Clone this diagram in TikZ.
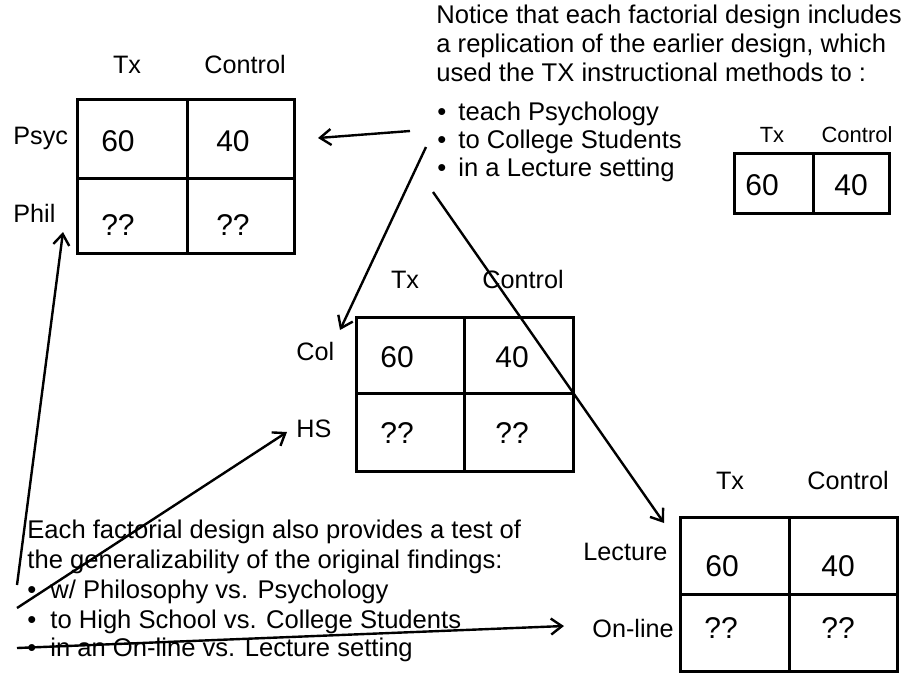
\documentclass[tikz,border=0pt]{standalone}
\usepackage{fontspec}
\setmainfont{Liberation Sans}
\usetikzlibrary{arrows.meta}
\begin{document}
\begin{tikzpicture}[x=0.5pt,y=-0.5pt,
  txt/.style={font=\fontsize{12.8}{15}\selectfont, inner sep=0pt, anchor=base west},
  lbl/.style={font=\fontsize{12.6}{15}\selectfont, inner sep=0pt, anchor=base},
  lblw/.style={font=\fontsize{12.6}{15}\selectfont, inner sep=0pt, anchor=base west},
  num/.style={font=\fontsize{15}{18}\selectfont, inner sep=0pt, anchor=base},
  small/.style={font=\fontsize{11}{13}\selectfont, inner sep=0pt, anchor=base},
  tbl/.style={line width=1.5pt},
  arr/.style={line width=1.2pt, -{Straight Barb[length=5.5pt,width=8pt,line width=1.2pt]}}]
\useasboundingbox (0,0) rectangle (904,681);

% ---------- top-left table (Psyc / Phil)
\draw[tbl] (77,99) rectangle (294,253);
\draw[tbl] (187,99) -- (187,253);
\draw[tbl] (77,178) -- (294,178);
\node[lbl] (tlTx) at (127,73) {Tx};
\node[lbl] (tlCo) at (245,73) {Control};
\node[lblw] (psyc) at (13,144) {Psyc};
\node[lblw] (phil) at (13,222) {Phil};
\node[num] (tl60) at (118,151) {60};
\node[num] (tl40) at (233,151) {40};
\node[num] (tlq1) at (118,235) {??};
\node[num] (tlq2) at (233,235) {??};

% ---------- middle table (Col / HS)
\draw[tbl] (356,317) rectangle (573,471);
\draw[tbl] (464,317) -- (464,471);
\draw[tbl] (356,393) -- (573,393);
\node[lbl] (mTx) at (405,288) {Tx};
\node[lbl] (mCo) at (523,288) {Control};
\node[lblw] (col) at (296,360) {Col};
\node[lblw] (hs) at (296,437) {HS};
\node[num] (m60) at (397,367) {60};
\node[num] (m40) at (512,367) {40};
\node[num] (mq1) at (397,443) {??};
\node[num] (mq2) at (512,443) {??};

% ---------- bottom-right table (Lecture / On-line)
\draw[tbl] (680,517) rectangle (897,671);
\draw[tbl] (789,517) -- (789,671);
\draw[tbl] (680,594) -- (897,594);
\node[lbl] (bTx) at (730,489) {Tx};
\node[lbl] (bCo) at (848,489) {Control};
\node[lblw] (lect) at (583,560) {Lecture};
\node[lblw] (onl) at (592,637) {On-line};
\node[num] (b60) at (722,576) {60};
\node[num] (b40) at (838,576) {40};
\node[num] (bq1) at (721,638) {??};
\node[num] (bq2) at (838,638) {??};

% ---------- small table (original design)
\draw[tbl] (734,153) rectangle (889,213);
\draw[tbl] (813,153) -- (813,213);
\node[small] (sTx) at (772,142) {Tx};
\node[small] (sCo) at (857,142) {Control};
\node[num] (s60) at (762,195) {60};
\node[num] (s40) at (851,195) {40};

% ---------- top-right text
\node[txt] (n1) at (436,23) {Notice that each factorial design includes};
\node[txt] (n2) at (436,52) {a replication of the earlier design, which};
\node[txt] (n3) at (436,81) {used the TX instructional methods to :};
\node[txt] (b1d) at (437,120) {•};
\node[txt] (b1) at (458,120) {teach Psychology};
\node[txt] (b2d) at (437,148) {•};
\node[txt] (b2) at (458,148) {to College Students};
\node[txt] (b3d) at (437,176) {•};
\node[txt] (b3) at (458,176) {in a Lecture setting};

% ---------- bottom-left text
\node[txt] (e1) at (27,538) {Each factorial design also provides a test of};
\node[txt] (e2) at (27,568) {the generalizability of the original findings:};
\node[txt] (c1d) at (27,598) {•};
\node[txt] (c1) at (50,598) {w/ Philosophy vs. Psychology};
\node[txt] (c2d) at (27,628) {•};
\node[txt] (c2) at (50,628) {to High School vs. College Students};
\node[txt] (c3d) at (27,656) {•};
\node[txt] (c3) at (50,656) {in an On-line vs. Lecture setting};

% ---------- arrow end points
\coordinate (a1s) at (410,131);  \coordinate (a1e) at (318,138);
\coordinate (a2s) at (426,147);  \coordinate (a2e) at (340,330);
\coordinate (a3s) at (433,192);  \coordinate (a3e) at (664,523);
\coordinate (a4s) at (17,585);   \coordinate (a4e) at (63,232);
\coordinate (a5s) at (17,608);   \coordinate (a5e) at (287,432);
\coordinate (a6s) at (17,648);   \coordinate (a6e) at (564,626);

\draw[arr] (a1s) -- (a1e);
\draw[arr] (a2s) -- (a2e);
\draw[arr] (a3s) -- (a3e);
\draw[arr] (a4s) -- (a4e);
\draw[arr] (a5s) -- (a5e);
\draw[arr] (a6s) -- (a6e);
\end{tikzpicture}
\end{document}
